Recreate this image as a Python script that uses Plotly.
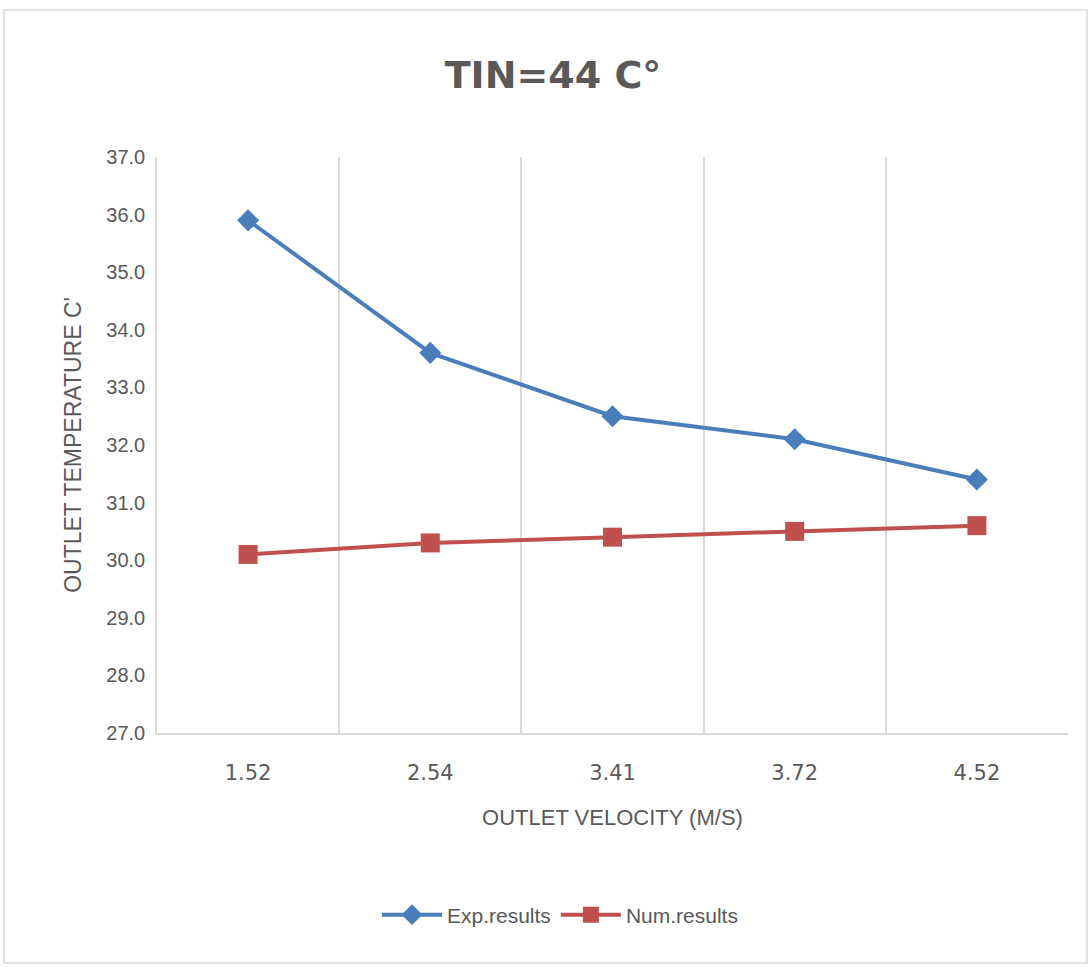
import plotly.graph_objects as go

categories = ["1.52", "2.54", "3.41", "3.72", "4.52"]
exp_results = [35.9, 33.6, 32.5, 32.1, 31.4]
num_results = [30.1, 30.3, 30.4, 30.5, 30.6]
y_ticks = [27.0, 28.0, 29.0, 30.0, 31.0, 32.0, 33.0, 34.0, 35.0, 36.0, 37.0]

W, H = 1091, 967
L, R, T, B = 157, 23, 157, 234
pw, ph = W - L - R, H - T - B

def px_to_paper_x(px):
    return (px - L) / pw

def px_to_paper_y(py):
    return (H - B - py) / ph

fig = go.Figure()
fig.add_trace(go.Scatter(
    x=categories, y=exp_results, name="Exp.results", mode="lines+markers",
    line=dict(color="#4A7EBB", width=4),
    marker=dict(symbol="diamond", size=17, color="#4A7EBB"),
))
fig.add_trace(go.Scatter(
    x=categories, y=num_results, name="Num.results", mode="lines+markers",
    line=dict(color="#C0504D", width=4),
    marker=dict(symbol="square", size=19, color="#C0504D"),
))

fig.update_layout(
    width=W, height=H,
    margin=dict(l=L, r=R, t=T, b=B),
    paper_bgcolor="white", plot_bgcolor="white",
    title=dict(text="<b>TIN=44 C°</b>", x=(553) / W, xanchor="center",
               y=1 - 75 / H, yanchor="middle",
               font=dict(family="DejaVu Sans", size=38, color="#595959")),
    font=dict(family="Liberation Sans", color="#595959"),
    xaxis=dict(
        type="category", range=[-0.5, 4.5],
        showgrid=True, gridcolor="#D9D9D9", gridwidth=1.5, tickson="boundaries",
        ticks="", showline=True, linecolor="#D9D9D9", linewidth=1.5,
        ticklabelstandoff=20,
        tickfont=dict(size=21, color="#595959", family="DejaVu Sans"),
        title=dict(text="OUTLET VELOCITY (M/S)", font=dict(size=22, color="#595959"), standoff=26),
        zeroline=False,
    ),
    yaxis=dict(
        range=[27, 37], tickvals=y_ticks, tickformat=".1f",
        showgrid=False, zeroline=False, ticks="",
        showline=True, linecolor="#D9D9D9", linewidth=1.5,
        ticklabelstandoff=6,
        tickfont=dict(size=20, color="#595959"),
        title=dict(text="OUTLET TEMPERATURE C'", font=dict(size=23, color="#595959"), standoff=18),
    ),
    legend=dict(orientation="h", x=px_to_paper_x(560), xanchor="center",
                y=px_to_paper_y(915), yanchor="middle",
                font=dict(size=21, color="#595959"), itemwidth=60),
    showlegend=True,
    shapes=[dict(type="rect", xref="paper", yref="paper",
                 x0=px_to_paper_x(4), x1=px_to_paper_x(1087),
                 y0=px_to_paper_y(963), y1=px_to_paper_y(10),
                 line=dict(color="#D9D9D9", width=1.5), layer="below")],
)

fig.write_html("out.html")
